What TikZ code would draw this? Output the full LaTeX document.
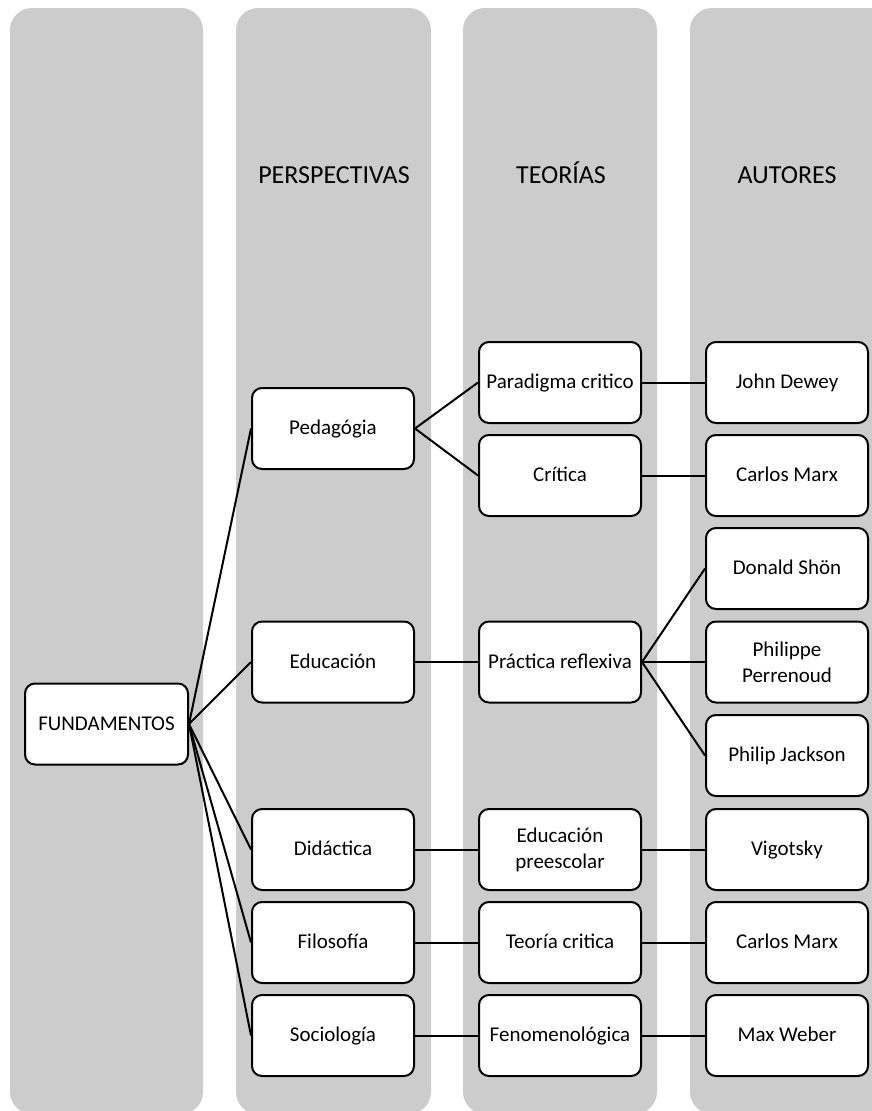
\documentclass[tikz,border=0pt]{standalone}
\usepackage{fontspec}
\setmainfont{Carlito}
\definecolor{colgray}{HTML}{CCCCCC}
\tikzset{
  colbox/.style={fill=colgray, draw=none, rounded corners=22pt},
  header/.style={anchor=base, font=\fontsize{26}{30}\selectfont, text=black},
  boxbase/.style={draw=black, fill=white, line width=2pt, rounded corners=10pt,
    minimum width=162pt, minimum height=81pt, inner sep=2pt, align=center,
    font=\fontsize{21}{26}\selectfont, text=black},
  box/.style={boxbase, text height=15pt, text depth=3pt},
  twobox/.style={boxbase},
  link/.style={draw=black, line width=2pt}
}
\begin{document}
\begin{tikzpicture}[x=1pt,y=-1pt]
\useasboundingbox (0,0) rectangle (872,1111);
\clip (0,0) rectangle (872,1111);
% columns
\fill[colbox] (10,8) rectangle (203,1114);
\fill[colbox] (236,8) rectangle (431,1114);
\fill[colbox] (463,8) rectangle (657,1114);
\fill[colbox] (690,8) rectangle (900,1114);
% headers
\node[header] (hper) at (334,183) {PERSPECTIVAS};
\node[header] (hteo) at (561,183) {TEORÍAS};
\node[header] (haut) at (787,183) {AUTORES};
% nodes
\node[box, minimum width=163pt] (fund) at (106.5,724) {FUNDAMENTOS};
\node[box] (ped) at (333,428.5) {Pedagógia};
\node[box] (edu) at (333,662) {Educación};
\node[box] (did) at (333,849.5) {Didáctica};
\node[box] (fil) at (333,942.5) {Filosofía};
\node[box] (soc) at (333,1035.5) {Sociología};
\node[box] (par) at (560,382.5) {Paradigma critico};
\node[box] (cri) at (560,475.5) {Crítica};
\node[box] (pra) at (560,662) {Práctica reflexiva};
\node[twobox] (epr) at (560,849.5) {Educación\\preescolar};
\node[box] (tcr) at (560,942.5) {Teoría critica};
\node[box] (fen) at (560,1035.5) {Fenomenológica};
\node[box] (dew) at (787,382.5) {John Dewey};
\node[box] (mar1) at (787,475.5) {Carlos Marx};
\node[box] (sho) at (787,568.5) {Donald Shön};
\node[twobox] (per) at (787,662) {Philippe\\Perrenoud};
\node[box] (jac) at (787,755.5) {Philip Jackson};
\node[box] (vig) at (787,849.5) {Vigotsky};
\node[box] (mar2) at (787,942.5) {Carlos Marx};
\node[box] (web) at (787,1035.5) {Max Weber};
% connectors
\draw[link] (fund.east) -- (ped.west);
\draw[link] (fund.east) -- (edu.west);
\draw[link] (fund.east) -- (did.west);
\draw[link] (fund.east) -- (fil.west);
\draw[link] (fund.east) -- (soc.west);
\draw[link] (ped.east) -- (par.west);
\draw[link] (ped.east) -- (cri.west);
\draw[link] (edu.east) -- (pra.west);
\draw[link] (did.east) -- (epr.west);
\draw[link] (fil.east) -- (tcr.west);
\draw[link] (soc.east) -- (fen.west);
\draw[link] (par.east) -- (dew.west);
\draw[link] (cri.east) -- (mar1.west);
\draw[link] (pra.east) -- (sho.west);
\draw[link] (pra.east) -- (per.west);
\draw[link] (pra.east) -- (jac.west);
\draw[link] (epr.east) -- (vig.west);
\draw[link] (tcr.east) -- (mar2.west);
\draw[link] (fen.east) -- (web.west);
\end{tikzpicture}
\end{document}
